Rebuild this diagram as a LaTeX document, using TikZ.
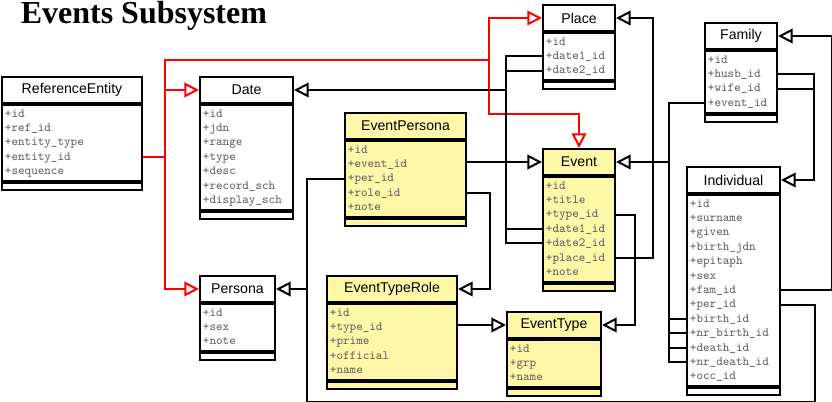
\documentclass[tikz,border=0pt]{standalone}
\usepackage{fontspec}
\setmainfont{Liberation Sans}
\newfontfamily\titlefont{Liberation Serif}
\usetikzlibrary{
    arrows.meta,
    positioning
}
\definecolor{evyellow}{HTML}{FFF7A8}
% vertical offset of field row #1 below the top of a field block
\newcommand{\fieldy}[1]{-7.3pt-10.8pt*#1+10.8pt}

\begin{document}
\begin{tikzpicture}[
    x=0.75pt, y=-0.75pt,
    title/.style={
        font=\titlefont\bfseries\fontsize{24}{28}\selectfont,
        inner sep=0pt,
        anchor=base west
    },
    classhead/.style={
        rectangle,
        draw=black,
        line width=1.5pt,
        fill=white,
        anchor=north west,
        minimum height=19.5pt,
        inner sep=0pt,
        font=\fontsize{10.6}{12}\selectfont
    },
    classbody/.style={
        rectangle,
        draw=black,
        line width=1.5pt,
        fill=white,
        align=left,
        inner xsep=2.2pt,
        inner ysep=1.5pt,
        text=black!62,
        font=\ttfamily\fontsize{9.4}{10.8}\selectfont,
        execute at begin node=\strut,
        execute at end node=\strut
    },
    classfoot/.style={
        rectangle,
        draw=black,
        line width=1.5pt,
        fill=white,
        minimum height=5.25pt,
        inner sep=0pt
    },
    isa/.style={
        draw=red,
        line width=1.5pt,
        -{Triangle[open, length=11pt, width=11pt]}
    },
    fk/.style={
        draw=black,
        line width=1.5pt,
        -{Triangle[open, length=11pt, width=11pt]}
    },
    fkline/.style={
        draw=black,
        line width=1.5pt
    }
]
\useasboundingbox (0,0) rectangle (832,402);

\node[title] (title) at (20.5,23.5) {Events Subsystem};

% =========================================================
% Plain classes
% =========================================================
\node[classhead, minimum width=105pt] (refent) at (1,76) {ReferenceEntity};
\node[classbody, text width=100.6pt, below=0pt of refent] (refent-attr) {+id\\+ref\_id\\+entity\_type\\+entity\_id\\+sequence};
\node[classfoot, minimum width=105pt, below=0pt of refent-attr] (refent-end) {};

\node[classhead, minimum width=69.75pt] (date) at (199,76) {Date};
\node[classbody, text width=65.35pt, below=0pt of date] (date-attr) {+id\\+jdn\\+range\\+type\\+desc\\+record\_sch\\+display\_sch};
\node[classfoot, minimum width=69.75pt, below=0pt of date-attr] (date-end) {};

\node[classhead, minimum width=56.25pt] (persona) at (199,275) {Persona};
\node[classbody, text width=51.85pt, below=0pt of persona] (persona-attr) {+id\\+sex\\+note};
\node[classfoot, minimum width=56.25pt, below=0pt of persona-attr] (persona-end) {};

\node[classhead, minimum width=54pt] (place) at (542,4) {Place};
\node[classbody, text width=49.6pt, below=0pt of place] (place-attr) {+id\\+date1\_id\\+date2\_id};
\node[classfoot, minimum width=54pt, below=0pt of place-attr] (place-end) {};

\node[classhead, minimum width=54pt] (family) at (704,22) {Family};
\node[classbody, text width=49.6pt, below=0pt of family] (family-attr) {+id\\+husb\_id\\+wife\_id\\+event\_id};
\node[classfoot, minimum width=54pt, below=0pt of family-attr] (family-end) {};

\node[classhead, minimum width=69.75pt] (indiv) at (686,166) {Individual};
\node[classbody, text width=65.35pt, below=0pt of indiv] (indiv-attr) {+id\\+surname\\+given\\+birth\_jdn\\+epitaph\\+sex\\+fam\_id\\+per\_id\\+birth\_id\\+nr\_birth\_id\\+death\_id\\+nr\_death\_id\\+occ\_id};
\node[classfoot, minimum width=69.75pt, below=0pt of indiv-attr] (indiv-end) {};

% =========================================================
% Event classes
% =========================================================
\node[classhead, fill=evyellow, minimum width=90.75pt] (epersona) at (344,112) {EventPersona};
\node[classbody, fill=evyellow, text width=86.35pt, below=0pt of epersona] (epersona-attr) {+id\\+event\_id\\+per\_id\\+role\_id\\+note};
\node[classfoot, fill=evyellow, minimum width=90.75pt, below=0pt of epersona-attr] (epersona-end) {};

\node[classhead, fill=evyellow, minimum width=54pt] (event) at (542,148) {Event};
\node[classbody, fill=evyellow, text width=49.6pt, below=0pt of event] (event-attr) {+id\\+title\\+type\_id\\+date1\_id\\+date2\_id\\+place\_id\\+note};
\node[classfoot, fill=evyellow, minimum width=54pt, below=0pt of event-attr] (event-end) {};

\node[classhead, fill=evyellow, minimum width=97.5pt] (etrole) at (326,275) {EventTypeRole};
\node[classbody, fill=evyellow, text width=93.1pt, below=0pt of etrole] (etrole-attr) {+id\\+type\_id\\+prime\\+official\\+name};
\node[classfoot, fill=evyellow, minimum width=97.5pt, below=0pt of etrole-attr] (etrole-end) {};

\node[classhead, fill=evyellow, minimum width=70.5pt] (etype) at (506,311) {EventType};
\node[classbody, fill=evyellow, text width=66.1pt, below=0pt of etype] (etype-attr) {+id\\+grp\\+name};
\node[classfoot, fill=evyellow, minimum width=70.5pt, below=0pt of etype-attr] (etype-end) {};

% =========================================================
% Inheritance from ReferenceEntity
% =========================================================
\draw[isa] ([yshift=\fieldy{4}]refent-attr.north east) -- ++(22,0) coordinate (rj) |- (date.west);
\draw[isa] (rj) |- (persona.west);
\draw[isa] (rj) -- ++(0,-97) -- ++(324,0) coordinate (rk) |- (place.west);
\draw[isa] (rk) -- ++(0,54) -| (event.north);

% =========================================================
% Keys
% =========================================================
\draw[fk] ([yshift=\fieldy{2}]place-attr.north west) -- ++(-36,0) coordinate (dj) |- (date.east);
\draw[fkline] ([yshift=\fieldy{3}]place-attr.north west) -- ++(-36,0);
\draw[fkline] ([yshift=\fieldy{4}]event-attr.north west) -| (dj);
\draw[fkline] ([yshift=\fieldy{5}]event-attr.north west) -| (dj);

\draw[fk] (event.west -| epersona-attr.east) -- (event.west);
\draw[fk] ([yshift=\fieldy{4}]epersona-attr.north east) -- ++(23,0) |- (etrole.east);
\draw[fk] ([yshift=\fieldy{3}]epersona-attr.north west) -- ++(-37,0) coordinate (pj) |- (persona.east);
\draw[fkline] ([yshift=\fieldy{8}]indiv-attr.north east) -- ++(34,0) -- ++(0,97) -| (pj);

\draw[fk] (etype.west -| etrole-attr.east) -- (etype.west);
\draw[fk] ([yshift=\fieldy{3}]event-attr.north east) -- ++(19,0) |- (etype.east);
\draw[fk] ([yshift=\fieldy{6}]event-attr.north east) -- ++(37,0) |- (place.east);

\draw[fk] ([yshift=\fieldy{4}]family-attr.north west) -- ++(-35,0) coordinate (fj) |- (event.east);
\foreach \r in {9,...,12}
    \draw[fkline] ([yshift=\fieldy{\r}]indiv-attr.north west) -| (fj);

\draw[fk] ([yshift=\fieldy{2}]family-attr.north east) -- ++(36,0) coordinate (hj) |- (indiv.east);
\draw[fkline] ([yshift=\fieldy{3}]family-attr.north east) -- ++(36,0);
\draw[fk] ([yshift=\fieldy{7}]indiv-attr.north east) -- ++(51,0) |- (family.east);

\end{tikzpicture}
\end{document}
